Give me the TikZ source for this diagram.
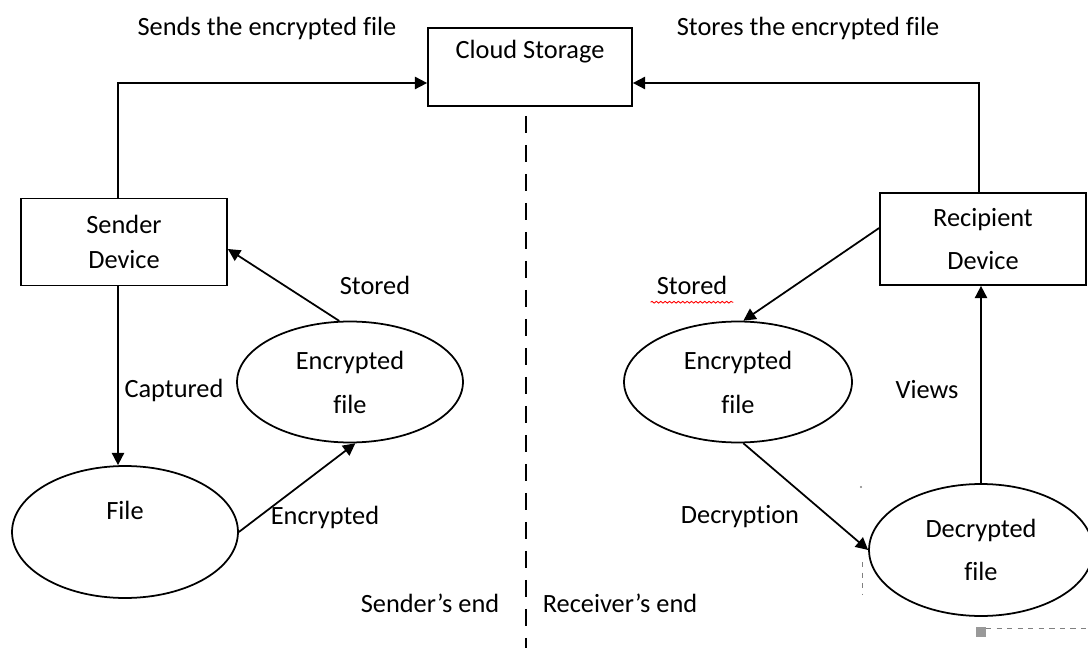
\documentclass[tikz,border=0pt]{standalone}
\usepackage{fontspec}
\setmainfont[Ligatures=NoCommon]{Carlito}
\usetikzlibrary{shapes.geometric,arrows.meta,decorations.pathmorphing}

\tikzset{
  box/.style={draw, line width=1pt, inner sep=0pt, align=center,
    font=\fontsize{15}{20}\selectfont},
  oval/.style={draw, ellipse, line width=1pt, inner sep=0pt, align=center,
    minimum width=4.52cm, minimum height=2.42cm, font=\fontsize{15}{25}\selectfont},
  flow/.style={line width=1pt, -{Triangle[length=7pt,width=7pt]}},
  lbl/.style={font=\fontsize{15}{18}\selectfont},
  divider/.style={line width=0.9pt, dash pattern=on 0.34cm off 0.24cm},
  speck/.style={gray, line width=0.5pt, dashed},
}

\begin{document}
\begin{tikzpicture}[x=0.02cm, y=-0.02cm]
  \useasboundingbox (0,0) rectangle (1088,648);

  % boxes
  \node[box, minimum width=4.08cm, minimum height=1.56cm] (cloud) at (530,67) {Cloud Storage\\\mbox{}};
  \node[box, minimum width=4.12cm, minimum height=1.74cm] (sender) at (124,242) {Sender\\Device};
  \node[box, minimum width=4.12cm, minimum height=1.84cm, font=\fontsize{15}{25}\selectfont] (recip) at (983,239) {Recipient\\Device};

  % ovals
  \node[oval, minimum height=2.64cm] (file) at (125,532) {File\\\mbox{}};
  \node[oval] (encL) at (350,382) {Encrypted\\file};
  \node[oval, minimum width=4.56cm] (encR) at (738,382) {Encrypted\\file};
  \node[oval, minimum width=4.48cm, minimum height=2.64cm, font=\fontsize{15}{24}\selectfont] (decr) at (981,550) {Decrypted\\file};

  % connectors
  \draw[flow] ([xshift=-0.12cm]sender.north) |- ([yshift=-0.32cm]cloud.west);
  \draw[flow] ([xshift=-0.08cm]recip.north) |- ([yshift=-0.32cm]cloud.east);
  \draw[flow] ([xshift=-0.12cm]sender.south) -- ([xshift=-0.12cm]sender.south |- file.north);
  \draw[flow] (file.east) -- (encL.-85);
  \draw[flow] (encL.100) -- ([yshift=-0.14cm]sender.east);
  \draw[flow] ([yshift=0.22cm]recip.west) -- (encR.85);
  \draw[flow] (encR.-85) -- (decr.west);
  \draw[flow] (decr.north) -- (decr.north |- recip.south);

  % divider
  \draw[divider] (526,116) -- (526,648);

  % labels
  \node[lbl] (sends) at (267,28) {Sends the encrypted file};
  \node[lbl] (stores) at (808,28) {Stores the encrypted file};
  \node[lbl] (capt) at (174,390) {Captured};
  \node[lbl] (storL) at (375,285) {Stored};
  \node[lbl] (encd) at (325,517) {Encrypted};
  \node[lbl] (storR) at (692,285) {Stored};
  \node[lbl] (decn) at (740,517) {Decryption};
  \node[lbl] (views) at (927,390) {Views};
  \node[lbl] (sEnd) at (430,603) {Sender’s end};
  \node[lbl] (rEnd) at (620,603) {Receiver’s end};

  % screen specks
  \draw[red, line width=0.5pt, decorate, decoration={snake, amplitude=0.5pt, segment length=2.5pt}]
    ([yshift=-1pt]storR.south west) -- ([yshift=-1pt]storR.south east);
  \draw[speck] (862,562) -- (862,594);
  \fill[gray] (861,487) circle (0.6pt);
  \fill[gray!80] (976,627) rectangle (986,637);
  \draw[speck] (986,628) -- (1088,628);
\end{tikzpicture}
\end{document}
